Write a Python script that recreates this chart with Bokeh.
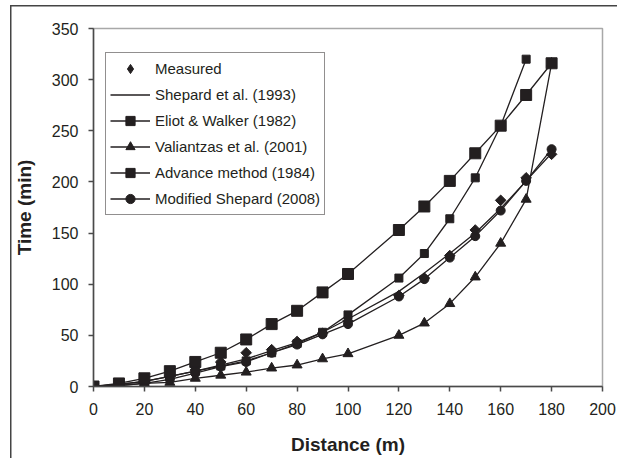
import numpy as np
from bokeh.plotting import figure
from bokeh.models import Range1d, FixedTicker, Legend, LegendItem
from bokeh.embed import file_html
from bokeh.resources import INLINE

# ---- data ----
distance = [0, 10, 20, 30, 40, 50, 60, 70, 80, 90, 100, 120, 130, 140, 150, 160, 170, 180]
measured = [0, 2, 5, 10, 16, 24, 33, 36, 44, 52, 64, 89, 106, 128, 153, 182, 204, 227]
shepard_1993 = [0, 2, 5, 10, 15, 21, 27, 35, 43, 53, 66, 93, 111, 130, 150, 174, 201, 228]
eliot_distance = [0, 10, 20, 30, 40, 50, 60, 70, 80, 90, 100, 120, 130, 140, 150, 160, 170]
eliot_walker = [0, 2, 5, 10, 15, 20, 25, 33, 42, 53, 70, 106, 130, 164, 204, 255, 320]
valiantzas = [0, 1, 3, 4, 8, 11, 14, 18, 21, 27, 32, 50, 62, 81, 107, 140, 183, 316]
advance = [0, 3, 8, 15, 24, 33, 46, 61, 74, 92, 110, 153, 176, 201, 228, 255, 285, 316]
modified_shepard = [0, 1, 3, 7, 13, 19.5, 24, 33, 41, 51, 61, 88, 105, 126, 147, 172, 201, 232]

x_ticks = [0, 20, 40, 60, 80, 100, 120, 140, 160, 180, 200]
y_ticks = [0, 50, 100, 150, 200, 250, 300, 350]

INK = "#231f20"
FONT = "Liberation Sans"

p = figure(width=617, height=458, output_backend="svg", toolbar_location=None,
           x_range=Range1d(0, 200), y_range=Range1d(0, 350),
           min_border_left=93, min_border_right=15, min_border_top=28, min_border_bottom=72)
p.background_fill_color = "white"
p.border_fill_alpha = 0
# outer picture frame: only its top and left edges fall inside the picture
p.styles = {"background-color": "white",
            "box-shadow": "inset 10px 5px 0 0 white, inset 11.5px 6.5px 0 0 #444444"}
p.grid.visible = False
p.outline_line_color = "#a8a8a8"
p.outline_line_width = 1.5

for ax in (p.xaxis[0], p.yaxis[0]):
    ax.axis_line_color = "#4a4a4a"
    ax.axis_line_width = 1.5
    ax.major_tick_line_color = "#4a4a4a"
    ax.major_tick_line_width = 1.5
    ax.major_tick_in = 0
    ax.major_tick_out = 5
    ax.minor_tick_line_color = None
    ax.major_label_text_font = FONT
    ax.major_label_text_font_size = "16px"
    ax.major_label_text_color = INK
    ax.axis_label_text_font = FONT
    ax.axis_label_text_font_style = "bold"
    ax.axis_label_text_font_size = "19px"
    ax.axis_label_text_color = INK

p.xaxis.ticker = FixedTicker(ticks=x_ticks)
p.yaxis.ticker = FixedTicker(ticks=y_ticks)
p.xaxis.axis_label = "Distance (m)"
p.yaxis.axis_label = "Time (min)"
p.xaxis.major_label_standoff = 11
p.yaxis.major_label_standoff = 10
p.xaxis.axis_label_standoff = 16
p.yaxis.axis_label_standoff = 14

LW = 1.3

# Shepard et al. (1993) - plain line
l_shep = p.line(distance, shepard_1993, line_color=INK, line_width=LW)

# Modified Shepard (2008) - circles
l_mod = p.line(distance, modified_shepard, line_color=INK, line_width=LW)
m_mod = p.scatter(distance, modified_shepard, marker="circle", size=9, fill_color=INK, line_color=INK)

# Valiantzas et al. (2001) - triangles
l_val = p.line(distance, valiantzas, line_color=INK, line_width=LW)
m_val = p.scatter(distance, valiantzas, marker="triangle", size=10, fill_color=INK, line_color=INK)

# Eliot & Walker (1982) - small squares
l_eli = p.line(eliot_distance, eliot_walker, line_color=INK, line_width=LW)
m_eli = p.scatter(eliot_distance, eliot_walker, marker="square", size=8, fill_color=INK, line_color=INK)

# Measured - diamonds
m_meas = p.scatter(distance, measured, marker="square", angle=np.pi / 4, size=7.5,
                   fill_color=INK, line_color=INK)
# hidden twin used only as the legend swatch for the measured diamonds
m_meas_key = p.scatter(distance, measured, marker="diamond", size=12,
                       fill_color=INK, line_color=INK, visible=False)

# Advance method (1984) - big squares
l_adv = p.line(distance, advance, line_color=INK, line_width=LW)
m_adv = p.scatter(distance, advance, marker="square", size=11, fill_color=INK, line_color=INK)

legend = Legend(items=[
    LegendItem(label="Measured", renderers=[m_meas_key]),
    LegendItem(label="Shepard et al. (1993)", renderers=[l_shep]),
    LegendItem(label="Eliot & Walker (1982)", renderers=[l_eli, m_eli]),
    LegendItem(label="Valiantzas et al. (2001)", renderers=[l_val, m_val]),
    LegendItem(label="Advance method (1984)", renderers=[l_adv, m_adv]),
    LegendItem(label="Modified Shepard (2008)", renderers=[l_mod, m_mod]),
], location=(12, 171))
legend.label_text_font = FONT
legend.label_text_font_size = "15px"
legend.label_text_color = INK
legend.glyph_width = 40
legend.glyph_height = 23
legend.label_height = 23
legend.spacing = 3
legend.padding = 4
legend.margin = 0
legend.label_standoff = 5
legend.border_line_color = INK
legend.border_line_width = 1
legend.background_fill_alpha = 1
legend.click_policy = "none"
p.add_layout(legend, "center")

open("out.html", "w").write(file_html(p, INLINE))
